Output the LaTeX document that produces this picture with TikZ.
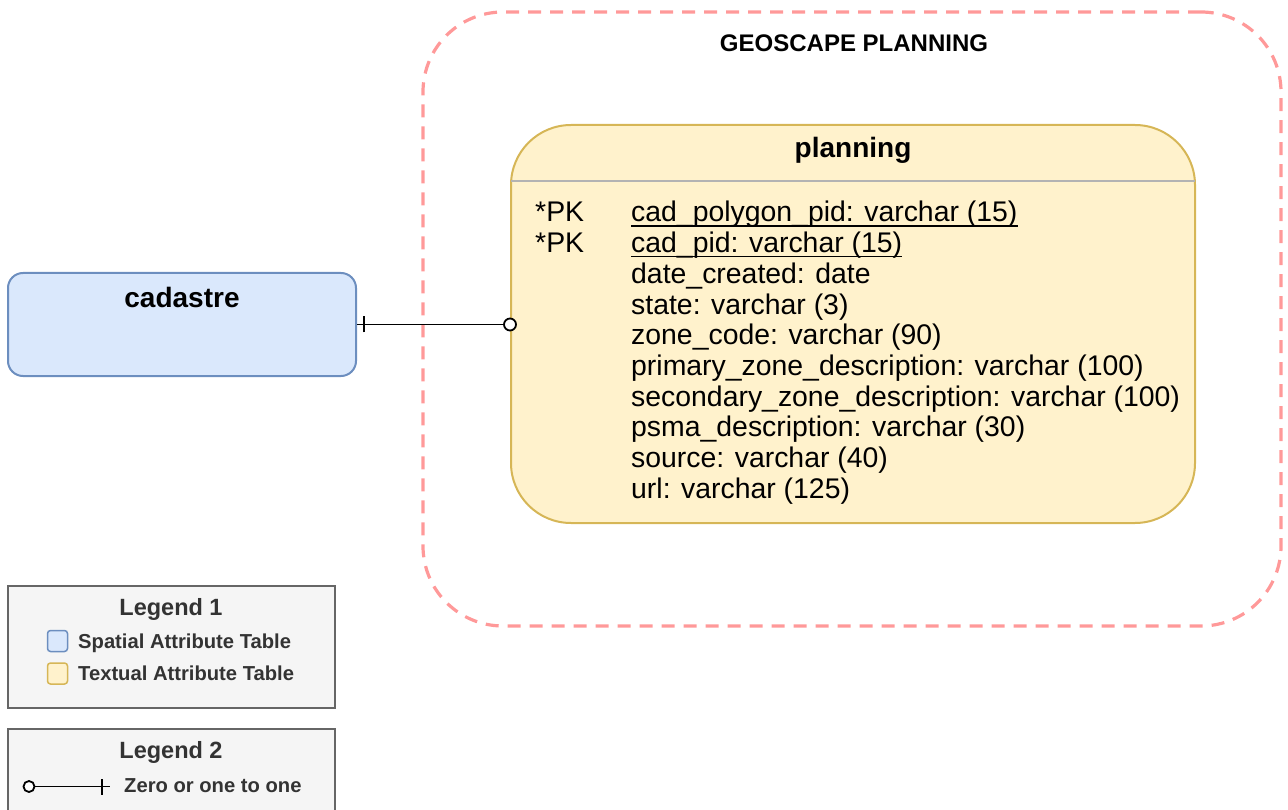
\documentclass[tikz,border=0pt]{standalone}
\usepackage{fontspec}
\setmainfont{Liberation Sans}
\definecolor{geored}{HTML}{FF9999}
\definecolor{yfill}{HTML}{FFF2CC}
\definecolor{ystroke}{HTML}{D6B656}
\definecolor{bfill}{HTML}{DAE8FC}
\definecolor{bstroke}{HTML}{6C8EBF}
\definecolor{lgfill}{HTML}{F5F5F5}
\definecolor{lgstroke}{HTML}{666666}
\definecolor{lgtext}{HTML}{333333}
\definecolor{divgray}{HTML}{B3B3B3}
\tikzset{
  container/.style={draw=geored, line width=3.2pt, dash pattern=on 13pt off 9pt, rounded corners=80pt, inner sep=0},
  entity/.style={draw=ystroke, fill=yfill, line width=2pt, rounded corners=60pt, inner sep=0},
  spatial/.style={draw=bstroke, fill=bfill, line width=2pt, rounded corners=15pt, inner sep=0},
  legendbox/.style={draw=lgstroke, fill=lgfill, line width=2pt, inner sep=0},
  swatch/.style={line width=1.5pt, rounded corners=3pt, minimum width=20pt, minimum height=21pt, inner sep=0},
  fieldtxt/.style={anchor=base west, inner sep=0, font=\fontsize{28.4}{31}\selectfont},
  titletxt/.style={anchor=base, inner sep=0, font=\bfseries\fontsize{28}{31}\selectfont},
  lgtitle/.style={anchor=base, inner sep=0, text=lgtext, font=\bfseries\fontsize{23.5}{26}\selectfont},
  lgitem/.style={anchor=base west, inner sep=0, text=lgtext, font=\bfseries\fontsize{20.2}{22}\selectfont},
  rel/.style={line width=1.7pt, black},
  endcircle/.style={circle, draw=black, fill=white, line width=1.8pt, minimum size=12pt, inner sep=0},
}
\begin{document}
\begin{tikzpicture}[x=1pt,y=-1pt]
\useasboundingbox (0,0) rectangle (1288,810);
% container
\node[container, minimum width=858pt, minimum height=614pt] (geo) at (852,319) {};
\node[anchor=base, inner sep=0, font=\bfseries\fontsize{24}{27}\selectfont] (geotitle) at (854,52) {GEOSCAPE PLANNING};
% planning entity
\node[entity, minimum width=684pt, minimum height=398pt] (planning) at (853,324) {};
\coordinate (divL) at (511,181);
\coordinate (divR) at (1195,181);
\draw[divgray, line width=2pt] (divL) -- (divR);
\node[titletxt] (ptitle) at (853,158) {planning};
\node[fieldtxt] (pk1) at (535,222) {*PK};
\node[fieldtxt] (pk2) at (535,252.7) {*PK};
\foreach \i/\t in {1/{cad\_polygon\_pid: varchar (15)},2/{cad\_pid: varchar (15)},3/{date\_created: date},4/{state: varchar (3)},5/{zone\_code: varchar (90)},6/{primary\_zone\_description: varchar (100)},7/{secondary\_zone\_description: varchar (100)},8/{psma\_description: varchar (30)},9/{source: varchar (40)},10/{url: varchar (125)}}{
  \node[fieldtxt] (f\i) at (631,{222+(\i-1)*30.7}) {\t};
}
\draw[line width=1.5pt] ([yshift=-4pt]f1.base west) -- ([yshift=-4pt]f1.base east);
\draw[line width=1.5pt] ([yshift=-4pt]f2.base west) -- ([yshift=-4pt]f2.base east);
% cadastre
\node[spatial, minimum width=348pt, minimum height=103pt] (cadastre) at (182,324.5) {};
\node[titletxt] (ctitle) at (182,308) {cadastre};
% relation
\coordinate (relend) at (cadastre.east -| planning.west);
\draw[rel] (cadastre.east) -- (relend);
\draw[rel] ([xshift=7pt,yshift=-8pt]cadastre.east) -- ([xshift=7pt,yshift=8pt]cadastre.east);
\node[endcircle] (relcirc) at (relend) {};
% legend 1
\node[legendbox, minimum width=327pt, minimum height=122pt] (leg1) at (171.5,647) {};
\node[lgtitle] (leg1t) at (171,615) {Legend 1};
\node[swatch, draw=bstroke, fill=bfill] (sw1) at (57.5,641) {};
\node[swatch, draw=ystroke, fill=yfill] (sw2) at (57.5,673.5) {};
\node[lgitem] (it1) at (78,648) {Spatial Attribute Table};
\node[lgitem] (it2) at (78,680.5) {Textual Attribute Table};
% legend 2
\node[legendbox, minimum width=327pt, minimum height=120pt] (leg2) at (171.5,789) {};
\node[lgtitle] (leg2t) at (171,758) {Legend 2};
\coordinate (l2a) at (29,786.5);
\coordinate (l2b) at (110,786.5);
\coordinate (l2tick) at (102,786.5);
\draw[line width=1.8pt] (l2a) -- (l2b);
\draw[line width=1.8pt] ([yshift=-8pt]l2tick) -- ([yshift=8pt]l2tick);
\node[circle, draw=black, fill=white, line width=1.8pt, minimum size=11pt, inner sep=0] (l2c) at (l2a) {};
\node[lgitem] (it3) at (124,792) {Zero or one to one};
\end{tikzpicture}
\end{document}
